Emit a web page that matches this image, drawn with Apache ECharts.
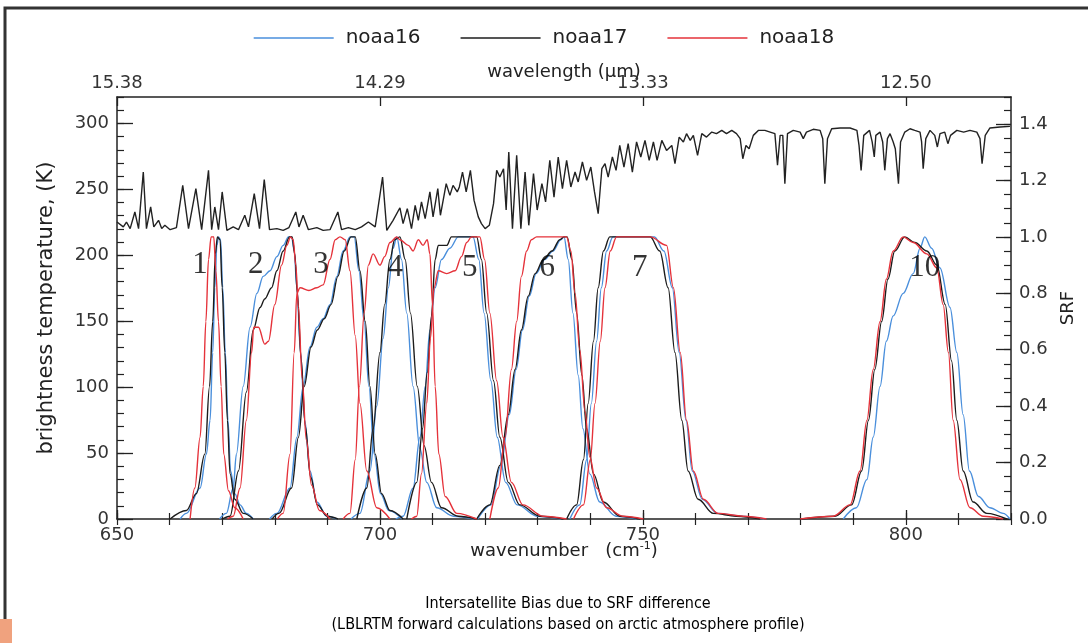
<!DOCTYPE html>
<html>
<head>
<meta charset="utf-8">
<script src="https://cdn.jsdelivr.net/npm/echarts@6/dist/echarts.min.js"></script>
<style>
html,body{margin:0;padding:0;background:#fff;}
#chart{width:1088px;height:643px;}
</style>
</head>
<body>
<div id="chart"></div>
<script>
// ---------- data ----------
// brightness temperature spectrum: [wavenumber (cm-1), K]
const spectrum = [
[650.0,225.2],[651.2,221.5],[651.8,225.2],[652.5,220.2],[653.4,232.8],[654.1,220.2],[655.0,263.1],[655.6,220.2],[656.4,236.6],[657.0,221.5],
[657.9,226.5],[658.5,220.2],[659.1,222.7],[660.1,219.4],[661.3,221.0],[662.5,253.0],[663.6,220.2],[665.0,250.5],[666.1,219.4],[667.4,264.4],
[668.0,219.4],[668.6,236.6],[669.3,219.4],[670.0,248.0],[670.9,218.9],[672.1,221.5],[673.1,219.4],[674.3,230.3],[675.0,221.5],[676.1,246.7],
[677.1,220.2],[678.0,257.3],[679.0,219.4],[680.4,220.2],[681.6,218.9],[682.7,221.0],[684.0,232.8],[684.6,221.5],[685.4,230.3],[686.4,219.4],
[688.0,221.0],[689.2,218.9],[690.5,219.4],[692.0,232.8],[692.7,219.4],[694.0,221.0],[695.3,219.4],[696.5,221.5],[697.8,225.2],[699.1,221.5],
[700.5,259.3],[701.3,218.9],[702.5,226.5],[703.8,236.0],[704.4,224.0],[705.2,235.4],[706.0,220.2],[706.7,237.9],[707.3,226.5],[707.9,240.4],
[708.6,227.8],[709.5,248.0],[710.1,229.1],[711.0,250.5],[711.5,230.3],[712.6,254.3],[713.3,245.4],[713.9,253.0],[714.7,248.0],[715.1,251.8],
[715.7,263.1],[716.4,248.0],[717.2,264.4],[717.9,241.6],[718.7,229.1],[719.3,224.0],[720.0,220.2],[720.8,222.7],[721.6,239.1],[722.2,264.4],
[722.8,259.3],[723.5,265.6],[724.0,234.3],[724.5,278.3],[725.2,220.2],[726.0,275.8],[726.8,220.2],[727.6,263.1],[728.3,222.7],[729.2,261.9],
[729.9,234.3],[730.8,254.3],[731.5,240.4],[732.3,272.0],[733.1,244.1],[733.9,274.5],[734.7,250.5],[735.5,272.0],[736.3,251.8],[737.1,263.1],
[737.7,255.6],[738.5,270.7],[739.3,256.8],[740.1,266.9],[740.8,248.0],[741.5,231.6],[742.2,265.6],[742.8,269.4],[743.4,259.3],[744.2,274.5],
[744.9,264.4],[745.6,283.3],[746.4,266.9],[747.2,284.6],[748.0,263.1],[748.8,285.9],[749.6,274.5],[750.4,287.1],[751.2,272.0],[752.0,285.9],
[752.7,272.0],[753.6,287.1],[754.5,279.5],[755.5,283.3],[756.1,269.4],[756.9,289.6],[757.7,285.9],[758.3,292.2],[759.0,287.1],[759.6,290.9],
[760.4,275.8],[761.2,292.2],[762.1,289.6],[763.1,293.4],[764.0,292.2],[765.0,294.7],[765.9,292.2],[766.9,294.7],[767.8,292.2],[768.5,288.4],
[769.0,273.2],[769.6,283.3],[770.2,280.8],[771.0,290.9],[772.0,294.7],[773.2,294.7],[774.2,293.4],[775.1,292.2],[775.6,268.2],[776.1,290.9],
[776.6,290.9],[777.0,254.3],[777.5,292.2],[778.6,294.7],[779.9,293.4],[780.5,288.4],[781.1,293.4],[782.4,295.5],[783.7,294.7],[784.2,288.4],
[784.6,254.3],[785.1,288.4],[785.9,295.9],[787.5,296.5],[789.4,296.5],[790.7,294.7],[791.1,283.3],[791.5,264.4],[792.0,290.9],[793.1,294.7],
[793.6,285.9],[794.0,274.5],[794.3,290.9],[795.1,293.4],[795.6,285.9],[796.0,264.4],[796.5,288.4],[797.0,292.2],[797.6,285.9],[798.0,280.8],
[798.6,254.3],[799.0,285.9],[799.8,293.4],[800.8,295.9],[801.7,294.7],[802.7,293.4],[803.0,285.9],[803.3,265.7],[803.8,288.4],[804.6,294.7],
[805.5,290.9],[806.0,282.1],[806.5,292.2],[807.4,293.4],[808.0,284.6],[808.5,290.9],[809.7,294.7],[811.0,293.4],[812.2,294.7],[813.5,293.4],
[814.1,288.4],[814.5,269.4],[815.1,290.9],[816.0,296.5],[817.9,297.2],[819.8,297.7]
];

// SRF curves: [wavenumber, SRF]
// noaa16
const n16_c1 = [[662.0,0],[663.2,0.02],[665.8,0.11],[667.0,0.23],[667.7,0.35],[668.2,0.59],[668.6,0.82],[669.0,0.97],[669.3,1.0],[669.7,0.99],[670.1,0.82],[670.6,0.59],[671.1,0.35],[671.6,0.17],[672.4,0.09],[673.4,0.05],[674.6,0.02],[675.9,0]];
const n16_c2 = [[669.5,0],[670.8,0.02],[672.1,0.11],[672.7,0.23],[674.0,0.47],[675.3,0.68],[676.6,0.8],[677.8,0.86],[679.1,0.88],[680.4,0.93],[681.6,0.97],[682.6,1.0],[683.2,1.0],[683.7,0.95],[684.2,0.82],[684.9,0.59],[685.7,0.35],[686.7,0.17],[688.0,0.06],[689.9,0.01],[691.8,0]];
const n16_c3 = [[679.0,0],[680.4,0.02],[682.9,0.11],[684.2,0.29],[685.4,0.47],[686.7,0.61],[688.0,0.68],[689.2,0.71],[690.5,0.76],[691.8,0.86],[693.0,0.95],[694.3,1.0],[695.1,1.0],[696.0,0.88],[697.0,0.7],[697.9,0.47],[698.9,0.23],[700.1,0.09],[701.7,0.03],[704.2,0]];
const n16_c4 = [[694.5,0],[696.2,0.02],[698.1,0.17],[699.4,0.4],[700.6,0.64],[701.6,0.82],[702.5,0.96],[703.2,1.0],[704.1,0.92],[705.1,0.73],[706.3,0.47],[707.6,0.25],[708.9,0.13],[710.8,0.04],[714.0,0.01],[717.8,0]];
const n16_c5 = [[703.0,0],[704.4,0.01],[706.3,0.11],[707.6,0.29],[708.6,0.47],[709.5,0.67],[710.5,0.82],[711.7,0.92],[713.3,0.96],[714.9,1.0],[717.7,1.0],[718.8,0.92],[719.8,0.73],[721.1,0.49],[722.3,0.29],[723.9,0.13],[726.1,0.05],[729.9,0.01],[734.4,0]];
const n16_c6 = [[718.6,0],[721.1,0.05],[723.0,0.19],[724.6,0.37],[725.9,0.53],[727.1,0.67],[728.4,0.79],[729.7,0.87],[731.3,0.92],[732.9,0.95],[734.4,0.99],[735.0,1.0],[735.8,0.92],[736.7,0.73],[737.7,0.51],[738.6,0.32],[739.9,0.16],[741.8,0.06],[744.9,0.01],[748.8,0]];
const n16_c7 = [[736.1,0],[738.0,0.05],[739.3,0.21],[740.2,0.41],[741.2,0.63],[742.1,0.82],[743.1,0.95],[744.3,1.0],[752.2,1.0],[754.0,0.95],[755.6,0.82],[756.9,0.59],[758.2,0.35],[759.4,0.17],[761.3,0.07],[764.2,0.02],[768.6,0.01],[773.1,0]];
const n16_c10 = [[788.1,0],[790.6,0.04],[792.6,0.14],[793.8,0.29],[795.1,0.47],[796.3,0.63],[797.6,0.72],[799.5,0.8],[801.4,0.87],[802.7,0.96],[803.6,1.0],[804.9,0.96],[806.5,0.89],[808.4,0.75],[809.7,0.59],[810.9,0.37],[812.1,0.17],[813.8,0.08],[816.0,0.04],[818.5,0.02],[819.8,0]];
// noaa17
const n17_c1 = [[660.1,0],[663.2,0.03],[665.1,0.09],[666.7,0.23],[667.6,0.47],[668.2,0.7],[668.7,0.94],[669.1,1.0],[669.6,0.99],[670.0,0.82],[670.5,0.59],[671.0,0.35],[671.5,0.16],[672.4,0.07],[674.0,0.02],[675.9,0]];
const n17_c2 = [[670.0,0],[671.5,0.01],[673.1,0.17],[674.6,0.45],[675.9,0.67],[677.2,0.75],[678.1,0.78],[679.4,0.82],[680.4,0.88],[681.6,0.95],[682.8,1.0],[683.3,1.0],[683.8,0.94],[684.3,0.8],[685.0,0.57],[685.8,0.33],[686.8,0.15],[688.1,0.05],[690.0,0.01],[692.0,0]];
const n17_c3 = [[679.5,0],[680.8,0.02],[683.2,0.11],[684.5,0.29],[685.6,0.47],[686.9,0.61],[688.1,0.67],[689.4,0.71],[690.7,0.76],[692.0,0.86],[693.2,0.95],[694.5,1.0],[695.3,1.0],[696.2,0.88],[697.2,0.7],[698.1,0.47],[699.1,0.23],[700.3,0.09],[701.9,0.03],[704.4,0]];
const n17_c4 = [[695.6,0],[697.5,0.11],[698.7,0.32],[700.0,0.59],[700.9,0.76],[701.9,0.92],[702.8,0.99],[703.8,1.0],[704.8,0.92],[705.8,0.73],[707.1,0.47],[708.4,0.26],[709.8,0.13],[711.7,0.04],[714.9,0.01],[718.4,0]];
const n17_c5 = [[705.1,0],[707.0,0.13],[708.1,0.32],[709.0,0.52],[709.8,0.72],[710.5,0.92],[711.1,0.97],[712.7,0.97],[713.6,1.0],[718.4,1.0],[719.3,0.92],[720.3,0.73],[721.6,0.49],[722.8,0.29],[724.4,0.13],[726.6,0.05],[730.4,0.01],[734.9,0]];
const n17_c6 = [[718.4,0],[720.9,0.05],[722.8,0.19],[724.4,0.37],[725.7,0.53],[726.9,0.67],[728.2,0.79],[729.5,0.87],[731.1,0.92],[732.7,0.95],[734.2,0.99],[735.0,1.0],[735.6,1.0],[736.5,0.92],[737.4,0.73],[738.4,0.51],[739.3,0.32],[740.6,0.16],[742.5,0.06],[745.6,0.01],[749.5,0]];
const n17_c7 = [[735.5,0],[737.4,0.05],[738.7,0.21],[739.6,0.41],[740.6,0.63],[741.5,0.82],[742.5,0.95],[743.7,1.0],[751.4,1.0],[753.2,0.95],[754.8,0.82],[756.1,0.59],[757.4,0.35],[758.6,0.17],[760.5,0.07],[763.4,0.02],[767.8,0.01],[772.3,0]];
const n17_c10 = [[780.2,0],[786.5,0.01],[789.7,0.05],[791.6,0.17],[792.9,0.35],[794.1,0.53],[795.4,0.7],[796.6,0.85],[797.9,0.95],[799.8,1.0],[801.7,0.98],[804.0,0.95],[805.9,0.9],[807.5,0.76],[808.7,0.56],[809.7,0.35],[810.9,0.17],[812.8,0.06],[815.4,0.02],[819.2,0]];
// noaa18
const n18_c1 = [[663.9,0],[664.8,0.11],[665.8,0.29],[666.4,0.47],[666.9,0.7],[667.4,0.92],[667.9,1.0],[668.4,1.0],[668.8,0.88],[669.3,0.7],[669.8,0.47],[670.3,0.23],[671.2,0.1],[672.4,0.04],[674.0,0]];
const n18_c2 = [[671.0,0],[672.1,0.01],[673.4,0.11],[674.6,0.35],[675.6,0.59],[676.0,0.68],[676.9,0.68],[678.1,0.62],[678.8,0.63],[680.0,0.76],[681.3,0.9],[682.3,0.97],[683.0,1.0],[683.5,0.99],[684.0,0.9],[684.5,0.75],[685.2,0.5],[686.0,0.28],[687.0,0.12],[688.5,0.03],[690.5,0]];
const n18_c3 = [[680.5,0],[681.6,0.02],[682.9,0.23],[683.7,0.59],[684.2,0.8],[684.8,0.82],[686.5,0.81],[688.0,0.82],[689.2,0.83],[690.5,0.92],[691.5,0.99],[692.4,1.0],[693.4,0.99],[694.3,0.88],[695.3,0.65],[696.2,0.41],[697.5,0.17],[699.4,0.04],[701.9,0]];
const n18_c4 = [[693.0,0],[694.3,0.02],[695.3,0.21],[696.1,0.47],[697.0,0.73],[697.8,0.9],[698.7,0.94],[700.0,0.9],[700.9,0.93],[701.9,0.98],[703.2,1.0],[703.8,0.99],[705.4,0.97],[706.3,0.95],[707.3,0.99],[708.2,0.97],[709.0,0.99],[709.5,0.94],[710.0,0.76],[710.5,0.47],[711.2,0.23],[712.4,0.08],[714.6,0.02],[718.4,0]];
const n18_c5 = [[706.0,0],[707.0,0.01],[707.9,0.16],[708.9,0.41],[709.6,0.64],[710.3,0.82],[711.1,0.88],[712.7,0.87],[714.3,0.88],[715.5,0.93],[716.5,0.98],[717.4,1.0],[719.0,1.0],[719.9,0.92],[720.9,0.73],[722.2,0.49],[723.4,0.29],[725.0,0.13],[727.2,0.05],[731.0,0.01],[735.5,0]];
const n18_c6 = [[720.9,0],[722.5,0.11],[723.8,0.29],[725.0,0.53],[726.0,0.7],[726.9,0.86],[727.9,0.95],[728.8,0.99],[729.8,1.0],[735.5,1.0],[736.3,0.95],[737.1,0.8],[738.0,0.6],[739.0,0.38],[739.9,0.22],[741.2,0.11],[743.1,0.04],[746.2,0.01],[750.1,0]];
const n18_c7 = [[736.8,0],[738.7,0.05],[740.0,0.21],[740.9,0.41],[741.9,0.63],[742.8,0.82],[743.8,0.95],[745.0,1.0],[751.4,1.0],[754.5,0.97],[755.8,0.82],[757.1,0.59],[758.3,0.35],[759.6,0.17],[761.5,0.07],[764.3,0.02],[769.1,0.01],[773.5,0]];
const n18_c10 = [[779.9,0],[786.2,0.01],[789.4,0.05],[791.3,0.17],[792.6,0.35],[793.8,0.53],[795.1,0.7],[796.3,0.85],[797.6,0.95],[799.5,1.0],[801.4,0.98],[804.0,0.94],[805.9,0.89],[807.1,0.76],[808.1,0.59],[809.0,0.35],[810.3,0.14],[812.2,0.04],[814.7,0.01],[818.5,0]];

const satNames = ['noaa16','noaa17','noaa18'];
const channelNames = ['1','2','3','4','5','6','7','10'];
const channelLabelWn = [665.8,676.4,688.8,702.9,717.1,731.8,749.4,803.6];
const channelLabelSrf = [0.90,0.90,0.90,0.89,0.89,0.89,0.89,0.89];
const wnMajorTicks = [650,700,750,800];
const wavelengthLabels = ['15.38','14.29','13.33','12.50'];
const btTicks = [0,50,100,150,200,250,300];
const srfTicks = ['0.0','0.2','0.4','0.6','0.8','1.0','1.2','1.4'];

// ---------- chart ----------
const satCurves = [
  [n16_c1,n16_c2,n16_c3,n16_c4,n16_c5,n16_c6,n16_c7,n16_c10],
  [n17_c1,n17_c2,n17_c3,n17_c4,n17_c5,n17_c6,n17_c7,n17_c10],
  [n18_c1,n18_c2,n18_c3,n18_c4,n18_c5,n18_c6,n18_c7,n18_c10]
];
const satColors = ['#4a8fdc','#1c1c1c','#e5323a'];
const drawOrder = [0,1,2];

const chart = echarts.init(document.getElementById('chart'), null, {renderer:'canvas'});
const axisFont = 'DejaVu Sans';
const narrowFont = "'Liberation Sans Narrow','DejaVu Sans Condensed',sans-serif";

const series = [];
series.push({
  type:'line', name:'spectrum', xAxisIndex:0, yAxisIndex:0, data:spectrum,
  showSymbol:false, symbol:'none', smooth:false,
  lineStyle:{color:'#222', width:1.4}, z:3
});
drawOrder.forEach(si => {
  satCurves[si].forEach(curve => {
    series.push({
      type:'line', name:satNames[si], xAxisIndex:0, yAxisIndex:2, data:curve,
      showSymbol:false, symbol:'none', smooth:0.35, smoothMonotone:'x',
      color:satColors[si],
      lineStyle:{color:satColors[si], width:1.4}, z:4+si
    });
  });
});
series.push({
  type:'scatter', name:'chan', xAxisIndex:0, yAxisIndex:2,
  data: channelNames.map((c,i)=>[channelLabelWn[i], channelLabelSrf[i], c]),
  symbol:'circle', symbolSize:2, itemStyle:{color:'rgba(0,0,0,0)'}, silent:true, z:10,
  label:{show:true, position:'inside', formatter:p=>p.data[2],
    fontFamily:"'Liberation Serif','DejaVu Serif',serif", fontSize:31, color:'#000'}
});

const tickLab = {fontFamily:axisFont, fontSize:18, color:'#333'};

const option = {
  animation:false,
  backgroundColor:'#fff',
  grid:{left:117, right:77, top:97, bottom:124, containLabel:false},
  legend:{
    data:satNames, top:23, left:'center', itemGap:40,
    icon:'rect', itemWidth:80, itemHeight:1.5,
    textStyle:{fontFamily:axisFont, fontSize:20, color:'#222', padding:[0,0,0,7]}
  },
  title:[
    {text:'Intersatellite Bias due to SRF difference', left:563, top:591, textAlign:'center',
     textStyle:{fontFamily:narrowFont, fontSize:16, fontWeight:'normal', color:'#000'}},
    {text:'(LBLRTM forward calculations based on arctic atmosphere profile)', left:563, top:612, textAlign:'center',
     textStyle:{fontFamily:narrowFont, fontSize:16, fontWeight:'normal', color:'#000'}}
  ],
  xAxis:[
    {type:'value', position:'bottom', min:650, max:820, interval:50,
     axisLine:{show:true, onZero:false, lineStyle:{color:'#222', width:1.5}},
     axisTick:{show:true, inside:true, length:9, lineStyle:{color:'#222', width:1.3}},
     axisLabel:{...tickLab, margin:7, showMaxLabel:false,
       formatter:v=>{const i=wnMajorTicks.indexOf(v); return i>=0?String(wnMajorTicks[i]):'';}},
     splitLine:{show:false},
     name:'{a|wavenumber   (cm}{s|-1}{a|)}', nameLocation:'middle', nameGap:22, nameMoveOverlap:false,
     nameTextStyle:{rich:{a:{fontFamily:axisFont, fontSize:18, color:'#222'},
                          s:{fontFamily:axisFont, fontSize:11, color:'#222', verticalAlign:'top', padding:[0,0,10,0]}}}},
    {type:'value', position:'bottom', min:650, max:820, interval:10,
     axisLine:{show:false}, axisLabel:{show:false}, splitLine:{show:false},
     axisTick:{show:true, inside:true, length:6, lineStyle:{color:'#222', width:1.2}}},
    {type:'value', position:'top', min:650, max:820, interval:50,
     axisLine:{show:true, onZero:false, lineStyle:{color:'#222', width:1.5}},
     axisTick:{show:true, inside:true, length:9, lineStyle:{color:'#222', width:1.3}},
     axisLabel:{...tickLab, margin:5, showMaxLabel:false,
       formatter:v=>{const i=wnMajorTicks.indexOf(v); return i>=0?wavelengthLabels[i]:'';}},
     splitLine:{show:false},
     name:'wavelength (\u00b5m)', nameLocation:'middle', nameGap:16, nameMoveOverlap:false,
     nameTextStyle:{fontFamily:axisFont, fontSize:18, color:'#222'}},
    {type:'value', position:'top', min:650, max:820, interval:10,
     axisLine:{show:false}, axisLabel:{show:false}, splitLine:{show:false},
     axisTick:{show:true, inside:true, length:6, lineStyle:{color:'#222', width:1.2}}}
  ],
  yAxis:[
    {type:'value', position:'left', min:0, max:320, interval:50,
     axisLine:{show:true, onZero:false, lineStyle:{color:'#222', width:1.5}},
     axisTick:{show:true, inside:true, length:16, lineStyle:{color:'#222', width:1.3}},
     axisLabel:{...tickLab, margin:8, showMaxLabel:false,
       formatter:v=>{const i=btTicks.indexOf(v); return i>=0?String(btTicks[i]):'';}},
     splitLine:{show:false},
     name:'brightness temperature, (K)', nameLocation:'middle', nameGap:60, nameRotate:90, nameMoveOverlap:false,
     nameTextStyle:{fontFamily:axisFont, fontSize:21, color:'#222'}},
    {type:'value', position:'left', min:0, max:320, interval:10,
     axisLine:{show:false}, axisLabel:{show:false}, splitLine:{show:false},
     axisTick:{show:true, inside:true, length:7, lineStyle:{color:'#222', width:1.2}}},
    {type:'value', position:'right', min:0, max:1.496, interval:0.2,
     axisLine:{show:true, onZero:false, lineStyle:{color:'#222', width:1.5}},
     axisTick:{show:true, inside:true, length:15, lineStyle:{color:'#222', width:1.3}},
     axisLabel:{...tickLab, margin:8, showMaxLabel:false,
       formatter:v=>{const i=Math.round(v/0.2); return (Math.abs(v-i*0.2)<1e-6 && i<srfTicks.length)?srfTicks[i]:'';}},
     splitLine:{show:false},
     name:'SRF', nameLocation:'middle', nameGap:48, nameRotate:90, nameMoveOverlap:false,
     nameTextStyle:{fontFamily:axisFont, fontSize:18, color:'#222'}},
    {type:'value', position:'right', min:0, max:1.496, interval:0.05,
     axisLine:{show:false}, axisLabel:{show:false}, splitLine:{show:false},
     axisTick:{show:true, inside:true, length:7, lineStyle:{color:'#222', width:1.2}}}
  ],
  graphic:[
    {type:'polyline', shape:{points:[[5,643],[5,8],[1088,8]]}, style:{stroke:'#333', lineWidth:3, fill:null}, silent:true},
    {type:'rect', shape:{x:0, y:619, width:12, height:24}, style:{fill:'#f0a27e'}, silent:true}
  ],
  series:series
};
chart.setOption(option);
</script>
</body>
</html>
